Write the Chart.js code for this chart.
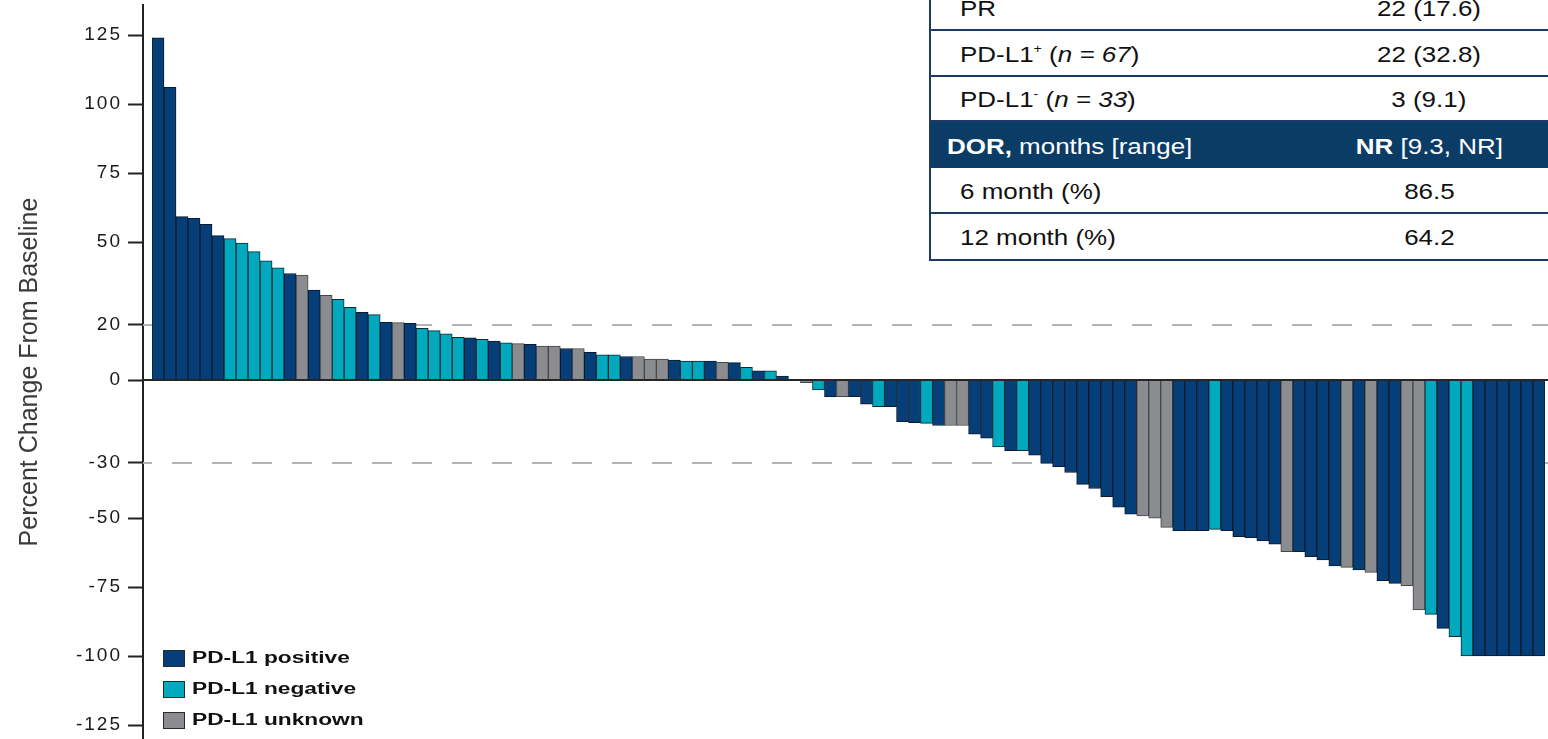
<!DOCTYPE html>
<html>
<head>
<meta charset="utf-8">
<script src="https://cdn.jsdelivr.net/npm/chart.js@4.4.1/dist/chart.umd.min.js"></script>
<style>
  html, body { margin: 0; padding: 0; background: #fff; overflow: hidden; }
  #wrap { position: relative; width: 1548px; height: 739px; }
  #wrap canvas { position: absolute; left: 0; top: 0; }
  .legend { position: absolute; left: 163px; top: 650px; font: bold 16px "Liberation Sans", Arial, sans-serif; color: #111; }
  .legend .item { position: absolute; left: 0; width: 260px; height: 17px; }
  .legend .sw { position: absolute; left: 0; top: 0; width: 20px; height: 15px; border: 1px solid #2b2b2b; }
  .legend .lab { position: absolute; left: 29px; top: -1px; line-height: 18px; white-space: nowrap; transform: scaleX(1.42); transform-origin: left center; }
  .stats { position: absolute; left: 929px; top: -15px; width: 625px; background: #fff;
           border-left: 2px solid #1d3a66; border-bottom: 2px solid #1d3a66;
           font: 22px "Liberation Sans", Arial, sans-serif; color: #111; }
  .stats .row { position: relative; display: flex; align-items: center; box-sizing: border-box; border-bottom: 2px solid #1d3a66; }
  .stats .row:last-child { border-bottom: none; }
  .stats .c1 { width: 380px; padding-left: 29px; box-sizing: border-box; white-space: nowrap; padding-top: 3px; }
  .stats .c2 { width: 236px; text-align: center; white-space: nowrap; padding-top: 3px; }
  .stats .c1 span { display: inline-block; transform: scaleX(1.18); transform-origin: left center; }
  .stats .c2 span { display: inline-block; transform: scaleX(1.18); transform-origin: center center; }
  .stats .head { background: #0b3c66; color: #fff; border-bottom: none; }
  .stats .head .c1 { padding-left: 16px; }
  .stats sup { font-size: 12px; vertical-align: 9px; line-height: 0; }
</style>
</head>
<body>
<div id="wrap">
  <canvas id="chart" width="1548" height="739"></canvas>

  <div class="stats">
    <div class="row" style="height:46px"><div class="c1"><span>PR</span></div><div class="c2"><span>22 (17.6)</span></div></div>
    <div class="row" style="height:46px"><div class="c1"><span>PD-L1<sup>+</sup> (<i>n = 67</i>)</span></div><div class="c2"><span>22 (32.8)</span></div></div>
    <div class="row" style="height:45px"><div class="c1"><span>PD-L1<sup>-</sup> (<i>n = 33</i>)</span></div><div class="c2"><span>3 (9.1)</span></div></div>
    <div class="row head" style="height:46px"><div class="c1"><span><b>DOR,</b> months [range]</span></div><div class="c2"><span><b>NR</b> [9.3, NR]</span></div></div>
    <div class="row" style="height:46px"><div class="c1"><span>6 month (%)</span></div><div class="c2"><span>86.5</span></div></div>
    <div class="row" style="height:45px"><div class="c1"><span>12 month (%)</span></div><div class="c2"><span>64.2</span></div></div>
  </div>

  <div class="legend" id="legend"></div>
</div>

<script>
// Best percent change from baseline in target lesions, one value per patient (sorted)
const changeFromBaseline = [
  124, 106, 59.2, 58.6, 56.4, 52.3, 51.2, 49.6, 46.5, 43.2,
  40.6, 38.6, 38.0, 32.6, 30.7, 29.2, 26.3, 24.5, 23.7, 20.9,
  20.8, 20.5, 18.7, 17.9, 16.7, 15.5, 15.3, 14.7, 14.1, 13.5,
  13.2, 12.9, 12.3, 12.3, 11.4, 11.4, 10.0, 9.1, 9.1, 8.5,
  8.5, 7.6, 7.6, 7.2, 6.9, 6.9, 6.9, 6.4, 6.3, 4.6,
  3.3, 3.3, 1.4, 0, -1.0, -3.6, -6.0, -6.0, -6.0, -8.8,
  -9.7, -9.7, -15.1, -15.5, -15.7, -16.5, -16.5, -16.5, -19.6, -21.1,
  -24.2, -25.6, -25.6, -27.2, -30.2, -31.4, -33.5, -37.8, -39.3, -42.3,
  -46.1, -48.6, -49.2, -50.1, -53.4, -54.6, -54.6, -54.6, -54.1, -54.6,
  -56.8, -57.1, -58.3, -59.5, -62.2, -62.2, -64.0, -65.2, -67.4, -67.9,
  -68.8, -69.7, -72.7, -73.7, -74.5, -83.3, -84.9, -90.0, -93.0, -100,
  -100, -100, -100, -100, -100, -100
];

// PD-L1 status per patient: P = positive, N = negative, U = unknown
const pdl1Status = [
  'P','P','P','P','P','P','N','N','N','N',
  'N','P','U','P','U','N','N','P','N','P',
  'U','P','N','N','N','N','P','N','P','N',
  'U','P','U','U','P','U','P','N','N','P',
  'U','U','U','P','N','N','P','U','P','N',
  'P','N','P','U','U','N','P','U','P','P',
  'N','P','P','P','N','P','U','U','P','P',
  'N','P','N','P','P','P','P','P','P','P',
  'P','P','U','U','U','P','P','P','N','P',
  'P','P','P','P','U','P','P','P','P','U',
  'P','U','P','P','U','U','N','P','N','N',
  'P','P','P','P','P','P'
];

const patientIds = changeFromBaseline.map((_, i) => String(i + 1));

const statusKeys = ['P', 'N', 'U'];
const statusLabels = ['PD-L1 positive', 'PD-L1 negative', 'PD-L1 unknown'];
const statusFill = { P: '#063f78', N: '#00a9be', U: '#8b8c90' };
const statusEdge = { P: '#0b1a2e', N: '#0d2a33', U: '#454548' };

// Y axis tick values and response thresholds (+20% progression, -30% partial response)
const yTickValues = [125, 100, 75, 50, 20, 0, -30, -50, -75, -100, -125];
const responseCutoffs = [20, -30];

// Leave a small gap between the value axis and the first / after the last bar
const barInset = {
  id: 'barInset',
  afterLayout(chart) {
    const x = chart.scales.x;
    x.left = chart.chartArea.left + 9;
    x.right = chart.chartArea.right - 3;
    x.width = x.right - x.left;
    x.configure();
  }
};

const guideLines = {
  id: 'guideLines',
  beforeDatasetsDraw(chart) {
    const { ctx, chartArea, scales: { y } } = chart;
    ctx.save();
    ctx.strokeStyle = '#b4b4b4';
    ctx.lineWidth = 2;
    ctx.setLineDash([20, 20]);
    ctx.lineDashOffset = 11;
    responseCutoffs.forEach(v => {
      const py = Math.round(y.getPixelForValue(v));
      ctx.beginPath();
      ctx.moveTo(chartArea.left, py);
      ctx.lineTo(chartArea.right, py);
      ctx.stroke();
    });
    ctx.restore();
  },
  afterDatasetsDraw(chart) {
    const { ctx, chartArea, scales: { y } } = chart;
    const py = Math.round(y.getPixelForValue(0));
    ctx.save();
    ctx.strokeStyle = '#262626';
    ctx.lineWidth = 2;
    ctx.beginPath();
    ctx.moveTo(chartArea.left, py);
    ctx.lineTo(chartArea.right, py);
    ctx.stroke();
    ctx.restore();
    // wider spacing for the tick numbers, which are drawn after this hook
    ctx.letterSpacing = '2px';
  },
  afterDraw(chart) {
    chart.ctx.letterSpacing = '0px';
  }
};

new Chart(document.getElementById('chart'), {
  type: 'bar',
  data: {
    labels: patientIds,
    datasets: [{
      data: changeFromBaseline,
      backgroundColor: pdl1Status.map(s => statusFill[s]),
      borderColor: pdl1Status.map(s => statusEdge[s]),
      borderWidth: 1,
      categoryPercentage: 1,
      barPercentage: 1
    }]
  },
  options: {
    responsive: false,
    animation: false,
    devicePixelRatio: 1,
    layout: { padding: { top: 5, right: 0, bottom: 0, left: 0 } },
    plugins: { legend: { display: false }, tooltip: { enabled: false } },
    scales: {
      x: {
        type: 'category',
        offset: true,
        display: false
      },
      y: {
        min: -130.07,
        max: 135.87,
        afterBuildTicks: scale => { scale.ticks = yTickValues.map(v => ({ value: v })); },
        afterFit: scale => {
          scale.width = 143;
          scale.paddingTop = 0;
          scale.paddingBottom = 0;
        },
        border: { display: true, color: '#222', width: 2 },
        grid: { drawOnChartArea: false, drawTicks: true, tickLength: 15, tickColor: '#222', tickWidth: 2 },
        ticks: {
          z: 1,
          padding: 6,
          color: '#1a1a1a',
          font: { family: "'Liberation Sans', Arial, sans-serif", size: 19 },
          callback: v => String(v)
        },
        title: {
          display: true,
          text: 'Percent Change From Baseline',
          color: '#3a3a3a',
          font: { family: "'Liberation Sans', Arial, sans-serif", size: 25 },
          padding: { top: 15, bottom: 0 }
        }
      }
    }
  },
  plugins: [barInset, guideLines]
});

// Legend for PD-L1 status
const legendEl = document.getElementById('legend');
statusKeys.forEach((k, i) => {
  const item = document.createElement('div');
  item.className = 'item';
  item.style.top = (i * 31) + 'px';
  const sw = document.createElement('div');
  sw.className = 'sw';
  sw.style.background = statusFill[k];
  const lab = document.createElement('div');
  lab.className = 'lab';
  lab.textContent = statusLabels[i];
  item.appendChild(sw);
  item.appendChild(lab);
  legendEl.appendChild(item);
});
</script>
</body>
</html>
